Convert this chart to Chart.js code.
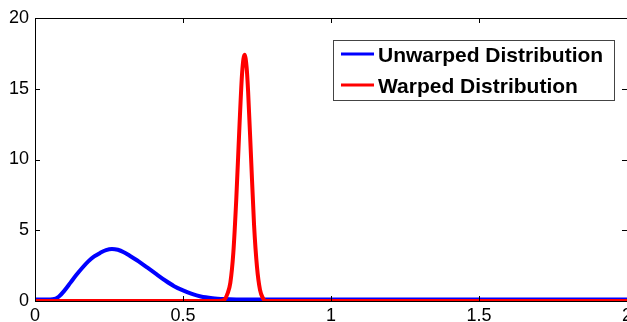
<!DOCTYPE html>
<html>
<head>
<meta charset="utf-8">
<script src="https://cdn.jsdelivr.net/npm/chart.js@4"></script>
<style>
  html, body { margin: 0; padding: 0; background: #fff; overflow: hidden; }
  #wrap { width: 636px; height: 322px; }
</style>
</head>
<body>
<div id="wrap"><canvas id="distChart"></canvas></div>
<script>
// values
const blueX = [0, 0.04, 0.06, 0.08, 0.10, 0.12, 0.14, 0.16, 0.18, 0.20, 0.22, 0.24, 0.26, 0.28, 0.30, 0.32, 0.35, 0.38, 0.41, 0.44, 0.47, 0.50, 0.53, 0.56, 0.60, 0.64, 0.68, 0.72, 0.80, 2.0];
const blueY = [0.1, 0.1, 0.12, 0.3, 0.75, 1.3, 1.85, 2.35, 2.8, 3.15, 3.4, 3.6, 3.68, 3.62, 3.45, 3.2, 2.8, 2.35, 1.9, 1.45, 1.05, 0.75, 0.5, 0.32, 0.2, 0.14, 0.11, 0.1, 0.1, 0.1];
const redX  = [0, 0.62, 0.64, 0.65, 0.66, 0.67, 0.68, 0.69, 0.70, 0.708, 0.715, 0.72, 0.73, 0.74, 0.75, 0.76, 0.77, 0.78, 2.0];
const redY  = [0, 0, 0.1, 0.5, 1.3, 3.4, 7.2, 12.0, 16.2, 17.4, 16.5, 14.8, 10.1, 5.4, 2.4, 0.8, 0.2, 0, 0];
const xTicks = [0, 0.5, 1, 1.5, 2];
const yTicks = [0, 5, 10, 15, 20];
const seriesNames = ['Unwarped Distribution', 'Warped Distribution'];
const seriesColors = ['#0000ff', '#ff0000'];

const FONT = "'Liberation Sans', Arial, sans-serif";

const toPoints = (xs, ys) => xs.map((x, i) => ({ x, y: ys[i] }));

// MATLAB-style box with inward ticks, plus the legend
const boxPlugin = {
  id: 'box',
  afterDraw(chart) {
    const { ctx, chartArea: a, scales: { x, y } } = chart;
    ctx.save();
    ctx.strokeStyle = '#000';
    ctx.lineWidth = 1;
    ctx.strokeRect(a.left + 0.5, a.top + 0.5, a.right - a.left, a.bottom - a.top);
    ctx.beginPath();
    xTicks.forEach(v => {
      const px = Math.round(x.getPixelForValue(v)) + 0.5;
      ctx.moveTo(px, a.bottom); ctx.lineTo(px, a.bottom - 5);
      ctx.moveTo(px, a.top);    ctx.lineTo(px, a.top + 5);
    });
    yTicks.forEach(v => {
      const py = Math.round(y.getPixelForValue(v)) + 0.5;
      ctx.moveTo(a.left, py);  ctx.lineTo(a.left + 5, py);
      ctx.moveTo(a.right, py); ctx.lineTo(a.right - 5, py);
    });
    ctx.stroke();

    const lx = 333, ly = 40, lw = 281, lh = 60;
    ctx.fillStyle = '#fff';
    ctx.fillRect(lx, ly, lw, lh);
    ctx.strokeStyle = '#444';
    ctx.strokeRect(lx + 0.5, ly + 0.5, lw, lh);
    ctx.font = `bold 21px ${FONT}`;
    ctx.textBaseline = 'middle';
    seriesNames.forEach((name, i) => {
      const rowY = 54 + i * 31;
      ctx.strokeStyle = seriesColors[i];
      ctx.lineWidth = 3;
      ctx.beginPath(); ctx.moveTo(341, rowY); ctx.lineTo(374, rowY); ctx.stroke();
      ctx.fillStyle = '#000';
      ctx.fillText(name, 378, rowY + 2);
    });
    ctx.restore();
  }
};

new Chart(document.getElementById('distChart'), {
  type: 'line',
  data: {
    datasets: [
      { label: seriesNames[0], data: toPoints(blueX, blueY), borderColor: seriesColors[0], order: 2 },
      { label: seriesNames[1], data: toPoints(redX, redY),   borderColor: seriesColors[1], order: 1 }
    ]
  },
  options: {
    responsive: true, maintainAspectRatio: false, animation: false,
    layout: { padding: { top: 18, left: 0, right: 0, bottom: 0 } },
    elements: {
      line: { borderWidth: 4, cubicInterpolationMode: 'monotone', borderJoinStyle: 'round', fill: false },
      point: { radius: 0 }
    },
    plugins: { legend: { display: false }, tooltip: { enabled: false } },
    scales: {
      x: {
        type: 'linear', min: 0, max: 2,
        afterBuildTicks: s => { s.ticks = xTicks.map(v => ({ value: v })); },
        afterFit: s => { s.height = 21; },
        grid: { display: false, drawTicks: false },
        border: { display: false },
        ticks: { color: '#000', font: { family: FONT, size: 18 }, padding: 4, maxRotation: 0, callback: v => String(v) }
      },
      y: {
        min: 0, max: 20,
        afterBuildTicks: s => { s.ticks = yTicks.map(v => ({ value: v })); },
        afterFit: s => { s.width = 35; },
        grid: { display: false, drawTicks: false },
        border: { display: false },
        ticks: { color: '#000', font: { family: FONT, size: 18 }, padding: 6, callback: v => String(v) }
      }
    }
  },
  plugins: [boxPlugin]
});
</script>
</body>
</html>
